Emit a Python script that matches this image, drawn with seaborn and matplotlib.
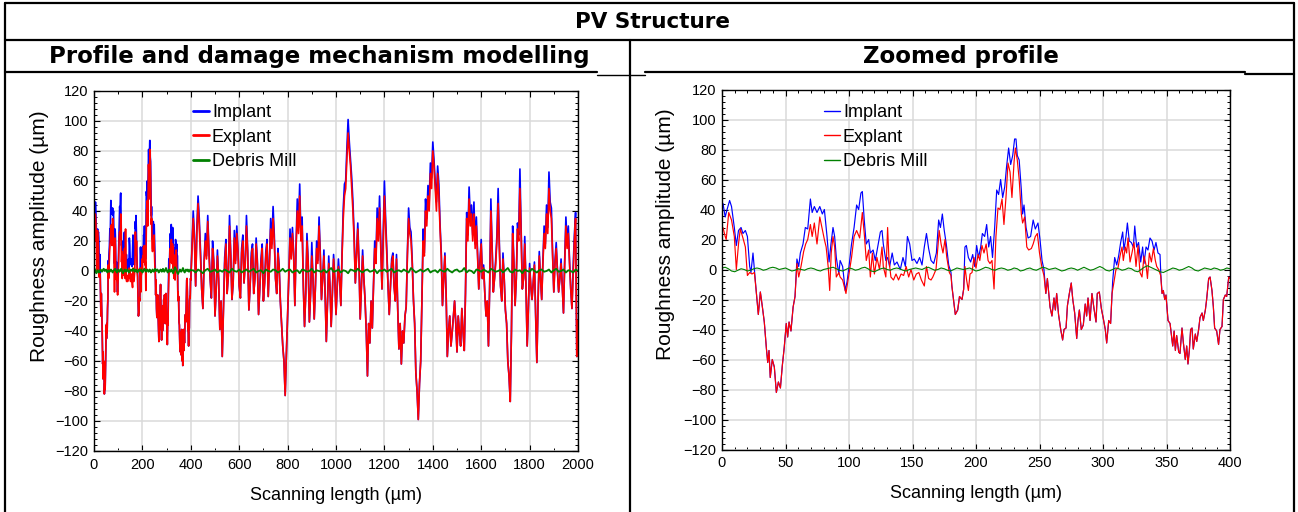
import numpy as np
import matplotlib
matplotlib.use("Agg")
import matplotlib.pyplot as plt
from matplotlib.lines import Line2D
from matplotlib.ticker import MultipleLocator
import seaborn as sns

# ---------------- data ----------------
series_names = ["Implant", "Explant", "Debris Mill"]

# Zoomed profile (0-400 um): segments where implant and explant differ
imp_1 = [(0,42),(0.8,44),(2.5,35),(4,40),(6,46),(7.5,42),(9.7,28),(11.3,16),(13,26),(15,28),(16.5,24),(18.4,26),(20,22),(21.8,2),(22.8,-2),(24.4,11),(25.5,0)]
exp_1 = [(0,26),(0.8,28),(2.5,22),(3.3,20),(5.3,38),(7.5,33),(9.7,22),(11.3,0),(13,17),(14.4,27),(16.5,21),(18.4,15),(20,-4),(21.8,-2),(23.6,-3),(25.5,-2)]
trough_1 = [(27,-15),(28.6,-30),(30.2,-15),(31.8,-25),(33.3,-35),(35,-53),(36,-62),(37,-54),(38,-72),(39.6,-60),(41.2,-65),(42.8,-82),(44.4,-75),(46,-79),(47.5,-64),(49,-52),(50.6,-36),(51.7,-45),(52.8,-35),(54.3,-41),(56,-25),(57.5,-18)]
imp_2 = [(59,7),(60.4,2),(61.7,11),(63.8,17),(65.6,28),(67.5,27),(69.6,47),(71,38),(72.7,42),(74.8,38),(77,42),(79,37),(80.6,40),(82.7,22),(84.3,5),(85.8,17),(87.4,28),(88.7,22),(90,8),(92,-3),(93,6),(95,2),(97,-14),(98.5,-8),(100,2),(102,17),(104,28),(106,43),(107.6,40),(109.4,51),(110.5,52),(112,33),(113.6,17),(115.5,20),(116.8,11),(119,13),(120.7,6),(122.6,15),(124.7,25),(126,26),(127,17),(129,6),(130.4,8),(132,2),(134,11),(135.7,3),(137.8,5),(140.4,0),(142.5,8),(144.4,2),(146,22),(147.8,17),(149.6,6),(151.4,7),(153.5,4),(155.6,8),(157.5,3),(159.3,15),(161,24),(162.7,14),(164.6,6),(166.7,4),(168.8,11),(170.6,33),(172,28),(173.5,37),(175,26),(176.6,17),(178.5,3),(180.3,-2)]
exp_2 = [(59,4),(60.4,-5),(62.2,2),(64.3,12),(65.9,17),(67.5,20),(69.6,30),(71,22),(72.7,31),(74.8,17),(77,35),(78.7,28),(80.6,20),(82,15),(83.7,1),(84.8,-14),(86,11),(87.4,22),(88.7,15),(90,-5),(92,-2),(93,-5),(95,-7),(97.6,-16),(100,-3),(102,8),(104,22),(106,26),(108.4,21),(110.5,38),(112,24),(113.6,6),(115.5,13),(116.8,-5),(118.4,11),(120,-3),(122,8),(124,0),(126,15),(127,2),(129,-5),(130.4,28),(131.5,6),(133,-5),(135,-7),(137,-3),(139,-7),(141,-3),(143,-4),(145,2),(147,-5),(148.8,0),(151,-7),(153,-3),(155,-2),(157,-7),(159.3,-11),(161,2),(162.7,-6),(164.6,-7),(166,-5),(168.5,0),(170,15),(171,26),(172.5,17),(174,11),(175.6,20),(177,8),(179,-2),(180.3,-4)]
trough_2 = [(181,-11),(183.7,-30),(185.6,-27),(187,-18),(189,-20),(190.3,-13)]
imp_3 = [(191.3,15),(192.4,16),(194,8),(195.8,5),(197.4,10),(199,2),(200.5,16),(202,8),(203.7,15),(205,24),(206.8,22),(208.4,30),(210,15),(211.5,22),(213,8),(214.7,28),(216.3,53),(217.8,50),(219.4,60),(221,48),(222.6,55),(224,68),(225.7,81),(227.3,70),(228.9,76),(230.4,87),(231.5,87),(232.5,76),(234,73),(235.7,53),(236.7,37),(237.8,43),(239.4,28),(241,21),(243,22),(245,33),(246.7,27),(248.8,31),(250.4,20),(252,6),(253.5,0)]
exp_3 = [(191.3,2),(192.6,-7),(194,-14),(195.3,-3),(196.9,-2),(198.4,8),(200,1),(201.6,10),(203,6),(204.7,16),(206.3,11),(208,17),(209.5,6),(211,4),(212.6,6),(214.2,-13),(215.7,22),(217.3,41),(218.9,40),(220.5,47),(222,30),(223.6,48),(225.2,71),(226.8,65),(228.3,48),(230,72),(231,81),(232.5,73),(234,60),(235.7,37),(236.7,31),(238.3,35),(240,15),(241.5,13),(243.6,14),(245,17),(246.7,22),(248.3,24),(250,11),(252,1),(253.5,-4)]
trough_3 = [(255,-16),(256.2,-6),(257.2,-15),(258.3,-25),(259.8,-31),(261.4,-19),(262.5,-27),(263.5,-16),(265,-30),(266.7,-40),(268.2,-47),(269.3,-40),(270.9,-39),(272,-24),(273.5,-16),(275,-9),(276.2,-20),(277.7,-29),(279.3,-46),(280.3,-34),(281.4,-27),(282.9,-40),(284.5,-37),(286,-23),(287.1,-31),(288.2,-19),(289.8,-34),(291.3,-16),(292.9,-26),(294.5,-35),(295.5,-16),(297.1,-15),(298.7,-26),(300.3,-33),(301.8,-40),(302.9,-49),(304.5,-34),(306,-36),(307.1,-16)]
imp_4 = [(307.6,-8),(309.2,8),(310.8,3),(312.3,9),(313.9,18),(315.5,25),(316.5,13),(318.1,22),(319.2,31),(320.7,19),(322.3,18),(323.9,15),(325,29),(326.5,15),(328,18),(329.7,5),(331.2,15),(332.3,4),(333.9,15),(335.4,13),(337,21),(338.6,19),(340.2,13),(341.7,18),(343.3,11),(344.9,10),(345.5,-3)]
exp_4 = [(308.7,-8),(310.2,0),(311.8,1),(313.4,9),(315,15),(316,6),(317.6,15),(318.6,11),(319.7,21),(321.3,5),(322.8,11),(324.4,18),(326,2),(327.6,16),(329.1,-2),(330.7,-5),(332.3,9),(333.9,3),(335,-6),(336.5,11),(338.1,5),(339.7,14),(341.2,6),(342.3,2),(343.8,0),(345.4,-4)]
trough_4 = [(346.5,-16),(347.5,-14),(348.6,-20),(349.6,-17),(351.2,-34),(352.8,-36),(353.8,-43),(354.9,-51),(356,-41),(357,-54),(358,-44),(359.6,-55),(360.6,-56),(362.2,-39),(363.3,-49),(364.8,-60),(365.9,-51),(366.9,-63),(368,-54),(369,-40),(370.1,-39),(371.1,-53),(372.7,-43),(373.8,-48),(375.3,-40),(376.4,-32),(378,-29),(379,-34),(380.6,-27),(381.6,-20),(383.2,-6),(384.3,-5),(385.8,-14),(386.9,-25),(387.9,-39),(389.5,-41),(391,-50),(392.1,-40),(393.7,-38),(394.8,-20),(396.3,-17),(397.4,-18),(399,-5),(400,-6)]

# Debris mill, 0-400 um (evenly spaced samples)
debris_zoom = [1,1.5,0.5,-1,-1.5,-0.5,0.5,0,-1,-0.5,0.5,1,0.5,-0.5,0,1,1.5,1,0,0.5,1,0,-1,-0.5,0.5,0,-0.5,0.5,1,0.5,-0.5,-1,0,0.5,1,1.5,0.5,-0.5,-1,0,1,0.5,-0.5,0,1,1.5,0.5,-1,-1.5,-0.5,0.5,1,0,-0.5,0.5,1,0.5,-0.5,-1,0,
               0.5,1,0.5,0,1,1.5,0.5,-0.5,0,1,0.5,-0.5,-1,0,1,0.5,0,0.5,1,0,-1,-0.5,0.5,1.5,1,0,-0.5,0.5,1,0.5,-0.5,0,1,0.5,-1,-0.5,0.5,1,0,-0.5,
               0.5,1.5,1,0,0.5,1,0,-1,-0.5,0.5,1,0.5,-0.5,0.5,1.5,0.5,-0.5,0,1,2,1,-0.5,-1,0,1,0.5,-0.5,0,1,0.5,-1,-1.5,0,1.5,2.5,1.5,0.5,-0.5,-1.5,-2,
               -1,0,1,0.5,-0.5,0,1,2,1,-0.5,-1,0,1,0.5,0,1,0.5,-0.5,0,1,0.5]

# Full profile beyond 400 um (405-2000 um, evenly spaced samples, 20 per 100 um)
far_explant = [15,35,20,-10,25,45,30,10,-12,-25,5,20,8,33,12,-5,-18,15,5,-30,
               -12,10,-5,-39,-20,-57,-25,5,18,-15,-3,30,10,-19,-8,22,5,25,12,-10,
               -18,12,20,-8,5,30,12,-26,-10,8,15,-15,-5,18,5,-29,-12,5,15,-20,
               -8,10,18,-17,5,28,15,35,20,-5,-15,12,2,-20,-35,-50,-60,-83,-55,-30,
               -5,22,8,25,10,-23,15,40,25,50,20,30,-10,-37,-15,20,5,-34,-15,10,
               -5,-32,-10,15,5,30,10,-19,-5,10,-15,-47,-20,5,-10,-37,-15,8,-5,-29,
               -10,3,-5,-23,10,35,50,55,75,92,80,70,55,40,20,-8,10,28,5,-32,
               -10,10,-5,-19,-40,-70,-35,-48,-20,-38,-10,15,5,35,20,42,15,-12,20,50,
               30,10,-10,-29,-10,5,10,-10,-20,8,-25,-52,-35,-62,-40,-48,-30,-24,10,35,
               25,20,5,-19,-35,-68,-80,-99,-75,-60,-20,20,10,40,30,50,40,65,55,80,
               70,55,40,65,50,28,10,-23,-5,10,-15,-57,-40,-30,-50,-41,-30,-20,-35,-54,
               -30,-41,-50,-25,-40,-53,-15,35,20,48,30,38,20,38,15,30,10,-12,5,18,
               -5,2,-15,-30,-20,-50,-10,40,15,-14,-5,5,20,45,15,-10,-20,8,-5,-26,
               -35,-60,-70,-87,-40,25,5,-23,-5,28,20,55,25,-12,-5,18,-10,-50,-25,2,
               -10,-19,-8,4,-30,-61,-20,10,-5,-19,5,25,15,38,25,55,40,35,10,-14,
               5,15,0,-14,-5,5,-10,-28,5,30,15,25,5,-12,-25,-2,20,35,-57,-33]
far_implant = [18,40,24,-10,29,50,35,14,-12,-25,7,25,10,37,14,-5,-18,20,7,-30,
               -12,14,-5,-39,-20,-57,-25,9,21,-15,-3,37,12,-19,-8,27,7,30,14,-10,
               -18,15,24,-8,7,37,14,-26,-10,12,18,-15,-5,22,7,-29,-12,8,18,-20,
               -8,13,21,-17,7,35,18,43,24,-5,-15,15,4,-20,-35,-50,-60,-83,-55,-30,
               -5,28,10,29,12,-23,18,48,29,58,24,36,-10,-37,-15,25,7,-34,-15,19,
               -5,-32,-10,20,7,36,12,-19,-5,14,-15,-47,-20,10,-10,-37,-15,11,-5,-29,
               -10,8,-5,-23,12,42,58,60,82,101,86,74,62,46,24,-8,12,32,7,-32,
               -10,14,-5,-19,-40,-70,-35,-48,-20,-38,-10,20,7,42,24,50,18,-12,24,60,
               35,14,-10,-29,-10,8,12,-10,-20,11,-25,-52,-35,-62,-40,-48,-30,-24,12,42,
               29,26,7,-19,-35,-68,-80,-99,-75,-60,-20,28,12,48,35,57,46,72,62,86,
               74,59,46,70,58,31,12,-23,-5,12,-15,-57,-40,-30,-50,-41,-30,-20,-35,-54,
               -30,-41,-50,-25,-40,-53,-15,39,24,56,35,44,24,46,18,36,12,-12,7,21,
               -5,4,-15,-30,-20,-50,-10,48,18,-14,-5,8,24,55,18,-10,-20,12,-5,-26,
               -35,-60,-70,-87,-40,30,7,-23,-5,32,24,68,29,-12,-5,23,-10,-50,-25,5,
               -10,-19,-8,6,-30,-61,-20,13,-5,-19,7,30,18,44,29,66,46,42,12,-14,
               7,19,0,-14,-5,8,-10,-28,7,36,18,30,7,-12,-25,3,24,39,-57,-33]
far_debris = [0.5,-1,1,0,-1.5,0.5,1.5,-0.5,0,1,-1,0.5,-0.5,1,0,-1,1.5,0,-0.5,1,
              -1,0,1,-0.5,0.5,1.5,-1,0,0.5,-1.5,1,0,-0.5,1,0.5,-1,0,1.5,-0.5,0.5,
              1,-1,0,0.5,-1.5,1,0.5,-0.5,0,1.5,-1,0.5,0,-0.5,1,-1,0.5,2,-0.5,0,
              1,-1,0.5,0,-1.5,1,0.5,-0.5,1.5,0,-1,0.5,1,-0.5,0,1,-1.5,0.5,0,1,
              -0.5,0.5,1.5,-1,0,0.5,-0.5,1,0,-1,2,0.5,-1,0,1,-0.5,0.5,1.5,-1,0,
              0.5,-1,1,0,-0.5,1.5,0,-1,0.5,1,-0.5,0,2,-1,0.5,0,-1.5,1,0.5,-0.5,
              1,0,-1,1.5,0.5,-0.5,0,1,-1,0.5,2,-0.5,-1,1,0,0.5,-1.5,1,0,-0.5,
              1.5,0,-1,0.5,1,-0.5,0,1,-1,0.5,1.5,-0.5,0,1,-1,0.5,0,-1,1,0]

# ---------------- assemble series ----------------
zoom_implant = imp_1 + trough_1 + imp_2 + trough_2 + imp_3 + trough_3 + imp_4 + trough_4
zoom_explant = exp_1 + trough_1 + exp_2 + trough_2 + exp_3 + trough_3 + exp_4 + trough_4
zi_x, zi_y = map(np.array, zip(*zoom_implant))
ze_x, ze_y = map(np.array, zip(*zoom_explant))
zd_x = np.linspace(0, 400, len(debris_zoom))
zd_y = np.array(debris_zoom, float)

n_far = min(len(far_explant), len(far_implant))
far_x = np.linspace(405, 2000, n_far)
fd_x = np.linspace(410, 2000, len(far_debris))
fi_x = np.concatenate([zi_x, far_x]); fi_y = np.concatenate([zi_y, np.array(far_implant[:n_far], float)])
fe_x = np.concatenate([ze_x, far_x]); fe_y = np.concatenate([ze_y, np.array(far_explant[:n_far], float)])
fdx = np.concatenate([zd_x, fd_x]); fdy = np.concatenate([zd_y, np.array(far_debris, float)])

# ---------------- style ----------------
sns.set_style("white")
plt.rcParams['font.family'] = ['Liberation Sans', 'DejaVu Sans']
for k in ("text.color", "axes.labelcolor", "xtick.color", "ytick.color"):
    plt.rcParams[k] = "black"

W, H = 1298, 512
fig = plt.figure(figsize=(W / 100, H / 100), dpi=100)
fig.patch.set_facecolor("white")

def fx(px):
    return px / W

def fy(py):
    return 1 - py / H

BLUE, RED, GREEN = "#0000ff", "#ff0000", "#008000"

axL = fig.add_axes([fx(94), fy(451), (578 - 94) / W, (451 - 91) / H])
axR = fig.add_axes([fx(722), fy(449.5), (1230 - 722) / W, (449.5 - 89.5) / H])

def draw(ax, xi, yi, xe, ye, xd, yd, lw, glw):
    sns.lineplot(x=xi, y=yi, ax=ax, color=BLUE, linewidth=lw, estimator=None, sort=False, legend=False)
    sns.lineplot(x=xe, y=ye, ax=ax, color=RED, linewidth=lw, estimator=None, sort=False, legend=False)
    sns.lineplot(x=xd, y=yd, ax=ax, color=GREEN, linewidth=glw, estimator=None, sort=False, legend=False)

draw(axL, fi_x, fi_y, fe_x, fe_y, fdx, fdy, 1.2, 1.3)
draw(axR, zi_x, zi_y, ze_x, ze_y, zd_x, zd_y, 0.85, 0.8)

for ax, xmax, xmaj, xmin in [(axL, 2000, 200, 100), (axR, 400, 50, 10)]:
    ax.set_xlim(0, xmax)
    ax.set_ylim(-120, 120)
    ax.xaxis.set_major_locator(MultipleLocator(xmaj))
    ax.xaxis.set_minor_locator(MultipleLocator(xmin))
    ax.yaxis.set_major_locator(MultipleLocator(20))
    ax.yaxis.set_minor_locator(MultipleLocator(4))
    ax.grid(True, which="major", color="#dadada", linewidth=1.1)
    ax.set_axisbelow(True)
    for s in ax.spines.values():
        s.set_color("black")
        s.set_linewidth(1.0)
        s.set_visible(True)
    ax.tick_params(which="both", direction="in", top=True, right=True, bottom=True, left=True,
                   colors="black", labelcolor="black", labelsize=10.5)
    ax.tick_params(which="major", length=4, width=0.8)
    ax.tick_params(which="minor", length=2.5, width=0.7)
    ax.tick_params(axis="x", pad=5)
    ax.tick_params(axis="y", pad=4)
    ax.set_xlabel("Scanning length (µm)", fontsize=13)
    ax.set_ylabel("Roughness amplitude (µm)", fontsize=15)
    ax.set_facecolor("white")

axL.xaxis.set_label_coords(0.5, -0.1)
axL.yaxis.set_label_coords(-0.093, 0.597)
axR.xaxis.set_label_coords(0.5, -0.1)
axR.yaxis.set_label_coords(-0.093, 0.597)

def add_legend(ax, x_px, y_px, lw):
    handles = [Line2D([], [], color=c, lw=lw) for c in (BLUE, RED, GREEN)]
    ax.legend(handles, series_names, loc="upper left", bbox_to_anchor=(fx(x_px), fy(y_px)),
              bbox_transform=fig.transFigure, frameon=False, fontsize=13,
              handlelength=0.9, handletextpad=0.15, labelspacing=0.42,
              borderpad=0, borderaxespad=0)

add_legend(axL, 193, 104, 2.0)
add_legend(axR, 824, 104, 1.0)

# ---------------- table frame and headings ----------------
def hline(x0, x1, y, lw=1.6):
    fig.add_artist(Line2D([fx(x0), fx(x1)], [fy(y), fy(y)], transform=fig.transFigure, color="black", lw=lw))

def vline(x, y0, y1, lw=1.6):
    fig.add_artist(Line2D([fx(x), fx(x)], [fy(y0), fy(y1)], transform=fig.transFigure, color="black", lw=lw))

hline(5, 1294, 3)
hline(5, 1294, 40)
hline(5, 597, 72)
hline(597, 645, 75, 1.0)
hline(645, 1245, 72)
hline(1245, 1294, 74)
vline(5, 3, 512)
vline(1294, 3, 512)
vline(630, 40, 512)

fig.text(fx(652), fy(22), "PV Structure", ha="center", va="center", fontsize=15.5,
         fontweight="bold", family="DejaVu Sans")
fig.text(fx(319), fy(57), "Profile and damage mechanism modelling", ha="center", va="center",
         fontsize=16.5, fontweight="bold", family="DejaVu Sans")
fig.text(fx(961), fy(57), "Zoomed profile", ha="center", va="center", fontsize=16.5,
         fontweight="bold", family="DejaVu Sans")

fig.savefig("out.png", dpi=100, facecolor="white")
